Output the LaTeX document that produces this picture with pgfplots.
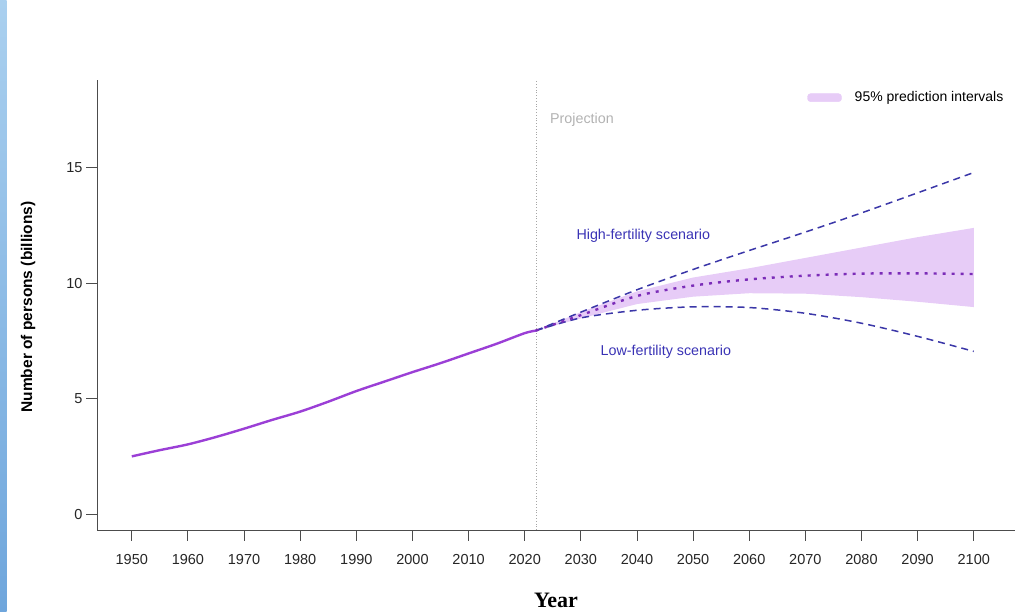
\documentclass[border=0pt]{standalone}
\usepackage{fontspec}
\setmainfont{Liberation Sans}
\newfontfamily\serifb{Liberation Serif}
\usepackage{pgfplots}
\pgfplotsset{compat=1.18}
\definecolor{histc}{HTML}{9B3FD6}
\definecolor{medc}{HTML}{7B2CB8}
\definecolor{scenc}{HTML}{3B37A8}
\definecolor{bandc}{HTML}{E7CCF7}
\definecolor{labc}{HTML}{3A33B5}
\definecolor{bartop}{HTML}{AAD0EF}
\definecolor{barbot}{HTML}{6FA6DC}
\begin{document}
\begin{tikzpicture}
\path[use as bounding box] (0pt,0pt) rectangle (1015pt,612pt);
\shade[top color=bartop, bottom color=barbot] (0pt,0pt) rectangle (6.5pt,612pt);
\node[rotate=90,font=\fontsize{15.5}{17}\selectfont\bfseries] at (28pt,305pt) {Number of persons (billions)};
\node[font=\fontsize{22}{24}\serifb\bfseries] at (556pt,12pt) {Year};
\begin{axis}[
  at={(97pt,82pt)}, anchor=south west,
  scale only axis, width=918pt, height=450pt,
  xmin=1943.8, xmax=2107.35, ymin=-0.69, ymax=18.81,
  axis lines=left, axis line style={-, black!70, line width=0.9pt},
  tick align=outside, tick style={black!70, line width=0.9pt},
  major tick length=11pt,
  xtick={1950,1960,...,2100}, ytick={0,5,10,15},
  xticklabel style={yshift=-10pt},
  tick label style={font=\fontsize{14.5}{16}\selectfont, text=black!85},
  /pgf/number format/assume math mode=true,
  /pgf/number format/1000 sep={},
  clip=false,
  legend style={at={(0.993,0.983)}, anchor=north east, draw=none, fill=none,
    font=\fontsize{14}{16}\selectfont},
  legend cell align=left,
]
\addplot[draw=none, fill=bandc, forget plot] coordinates {
(2022,7.95) (2030,8.75) (2040,9.65) (2050,10.25) (2060,10.65) (2070,11.1) (2080,11.55) (2090,12.0) (2100,12.4)
(2100,8.97) (2090,9.2) (2080,9.4) (2070,9.55) (2060,9.57) (2050,9.42) (2040,9.1) (2030,8.48) (2022,7.95)} -- cycle;
\addlegendimage{legend image code/.code={\fill[bandc, rounded corners=3pt] (0pt,-4pt) rectangle (34pt,4pt); \path (45pt,0pt);}}
\addlegendentry{95\% prediction intervals}
\addplot[gray!70, dotted, line width=0.8pt, forget plot] coordinates {(2022,-0.69) (2022,18.81)};
\addplot[histc, line width=2.4pt, smooth, forget plot] coordinates {
(1950,2.50) (1955,2.77) (1960,3.02) (1965,3.34) (1970,3.70) (1975,4.08) (1980,4.44) (1985,4.87)
(1990,5.33) (1995,5.74) (2000,6.15) (2005,6.54) (2010,6.96) (2015,7.38) (2020,7.84) (2022,7.95)};
\addplot[scenc, line width=1.5pt, dash pattern=on 7pt off 5pt, smooth, forget plot] coordinates {
(2022,7.95) (2030,8.75) (2040,9.72) (2050,10.6) (2060,11.42) (2070,12.22) (2080,13.05) (2090,13.92) (2100,14.8)};
\addplot[scenc, line width=1.5pt, dash pattern=on 7pt off 5pt, smooth, forget plot] coordinates {
(2022,7.95) (2030,8.5) (2040,8.83) (2050,8.98) (2060,8.95) (2070,8.7) (2080,8.27) (2090,7.7) (2100,7.05)};
\addplot[medc, line width=2.4pt, dash pattern=on 3pt off 6pt, smooth, forget plot] coordinates {
(2022,7.95) (2030,8.62) (2040,9.45) (2050,9.9) (2060,10.17) (2070,10.33) (2080,10.42) (2090,10.43) (2100,10.4)};
\node[anchor=west, text=gray!60, font=\fontsize{14.3}{16}\selectfont] at (axis cs:2023.9,17.08) {Projection};
\node[anchor=west, text=labc, font=\fontsize{14.3}{16}\selectfont] at (axis cs:2028.6,12.05) {High-fertility scenario};
\node[anchor=west, text=labc, font=\fontsize{14.3}{16}\selectfont] at (axis cs:2032.9,7.02) {Low-fertility scenario};
\end{axis}
\end{tikzpicture}
\end{document}
